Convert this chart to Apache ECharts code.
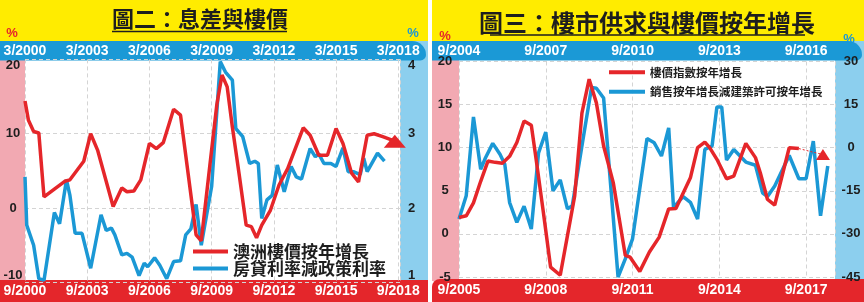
<!DOCTYPE html>
<html><head><meta charset="utf-8">
<script src="https://cdn.jsdelivr.net/npm/echarts@6/dist/echarts.min.js"></script>
<style>html,body{margin:0;padding:0;background:#fff}#c{width:864px;height:302px}</style>
</head><body><div id="c"></div>
<script>
// ---------- DATA ----------
// Left chart (圖二): x = months since 3/2000
const leftTopTicks = ['3/2000','3/2003','3/2006','3/2009','3/2012','3/2015','3/2018'];
const leftBottomTicks = ['9/2000','9/2003','9/2006','9/2009','9/2012','9/2015','9/2018'];
const ausPriceMonth = [0,2,5,8,11,23,26,34,38,42,51,56,59,63,67,72,76,80,86,90,99,102,107,111,114,117,120,124,128,131,134,137,142,147,152,161,165,170,175,180,184,189,193,198,202,207,214];
const ausPriceYoY = [14.4,11.8,10.3,10.1,1.5,3.6,3.8,6.3,10.0,7.8,0.2,2.7,2.2,2.3,3.8,8.7,8.0,8.8,13.3,12.5,-3.6,-4.4,5.8,13.9,17.9,16.3,10.9,4.4,-2.3,-2.5,-4.0,-2.3,-0.3,3.1,5.3,10.8,9.8,7.1,7.1,10.7,8.7,4.7,3.5,9.8,10.0,9.6,9.0];
const spreadMonth = [0,1,5,8,11,17,20,24,26,29,33,38,44,47,50,52,56,59,62,66,69,71,75,78,82,86,90,93,96,99,102,108,113,116,120,122,126,130,133,135,137,140,143,146,150,154,157,160,165,168,170,173,177,180,184,187,190,194,196,198,204,208];
const spreadValue = [2.42,1.77,1.50,1.05,1.03,1.94,1.79,2.38,2.17,1.66,1.66,1.19,1.91,1.70,1.73,1.64,1.37,1.39,1.34,1.09,1.26,1.21,1.33,1.23,1.05,1.28,1.29,1.64,1.72,2.05,1.50,2.29,3.97,3.83,3.72,3.07,2.96,2.60,2.63,2.60,1.86,2.11,2.17,2.58,2.22,2.56,2.42,2.39,2.80,2.69,2.73,2.60,2.60,2.56,2.81,2.49,2.49,2.45,2.67,2.49,2.74,2.63];

// Right chart (圖三): x = months since 9/2004
const rightTopTicks = ['9/2004','9/2007','9/2010','9/2013','9/2016'];
const rightBottomTicks = ['9/2005','9/2008','9/2011','9/2014','9/2017'];
const indexMonth = [0,3,6,9,12,15,18,21,24,27,30,32,35,38,42,45,48,51,54,57,60,64,69,71,75,79,83,87,90,96,99,102,104,107,111,114,119,123,125,128,131,137,141];
const indexYoY = [1.9,2.1,3.6,6.1,8.45,8.3,8.2,9.0,10.6,13.1,12.6,8.65,2.5,-3.85,-4.8,-0.2,4.4,14.0,17.95,15.2,10.2,5.95,-2.5,-2.7,-4.35,-2.1,-0.4,2.9,2.95,6.5,10.0,10.65,10.0,8.65,6.4,6.7,10.5,8.85,7.1,4.0,3.35,10.0,9.9];
const projMonth = [141,151];
const projYoY = [9.9,9.2];
const gapMonth = [0,3,6,9,11,14,17,19,21,24,27,30,33,36,39,42,45,47,51,55,57,60,66,69,72,78,81,84,87,89,93,96,99,102,105,107,109,111,114,119,123,126,128,131,137,141,144,147,150,153];
const gapValue = [-24.8,-16.7,10.7,-7.5,-3.5,1.5,-2.3,-5.8,-19.1,-26,-20.4,-28.3,-1.8,5.4,-15,-11.2,-21.3,-20.2,0.6,21,20.7,17.3,-45,-38.7,-31.7,3.2,1.7,-2.9,6.9,-20.8,-17,-19,-24.8,-0.6,0.6,14.2,14.2,-4.3,-0.6,-5,-6.1,-15.8,-17,-13.3,-2.7,-10.8,-10.8,2.3,-23.7,-6.4];

// ---------- STYLE ----------
const RED = '#e5262a', BLUE = '#1b98d5', BAND_BLUE = '#1b99d6', BAND_RED = '#e4262b';
const PINK = '#f2a9b2', LIGHT_BLUE = '#8ccfee', YELLOW = '#ffec00', INK = '#1e1e1e';
const NUM_FONT = '"Liberation Sans", Arial, sans-serif';
const CJK_FONT = '"Noto Sans CJK TC", "Noto Sans CJK SC", sans-serif';

const pairs = (xs, ys) => xs.map((x, i) => [x, ys[i]]);

function xAx(grid, pos, ticks, max, margin, split) {
  return {
    type: 'value', gridIndex: grid, position: pos, min: 0, max: max, interval: 36,
    axisLine: {show: false}, axisTick: {show: false},
    splitLine: {show: split, lineStyle: {color: '#d4d4d4', type: [4, 3], width: 1}},
    axisLabel: {
      margin: margin, color: '#fff', fontWeight: 'bold', fontSize: 14, fontFamily: NUM_FONT,
      showMinLabel: true, showMaxLabel: true,
      formatter: v => { const k = Math.round(v / 36); return (Math.abs(v - k * 36) < 0.01 && ticks[k]) ? ticks[k] : ''; }
    }
  };
}
function yAx(grid, pos, min, max, interval, margin, split, edgeAlign) {
  const lbl = {margin: margin, align: 'center', color: INK, fontWeight: 'bold', fontSize: 13, fontFamily: NUM_FONT};
  if (edgeAlign) { lbl.verticalAlignMaxLabel = 'top'; lbl.verticalAlignMinLabel = 'bottom'; }
  return {
    type: 'value', gridIndex: grid, position: pos, min: min, max: max, interval: interval,
    axisLine: {show: false}, axisTick: {show: false},
    splitLine: {show: split, lineStyle: {color: '#d4d4d4', type: [4, 3], width: 1}},
    axisLabel: lbl
  };
}

const graphics = [
  // left panel backgrounds
  {type:'rect', z:-10, shape:{x:0,y:0,width:428,height:42}, style:{fill:YELLOW}},
  {type:'rect', z:-10, shape:{x:400,y:41,width:28,height:240}, style:{fill:LIGHT_BLUE}},
  {type:'rect', z:-10, shape:{x:0,y:59,width:25,height:222}, style:{fill:PINK}},
  {type:'rect', z:-9, shape:{x:0,y:41,width:426,height:19.5,r:[0,20,8,0]}, style:{fill:BAND_BLUE}},
  {type:'rect', z:-9, shape:{x:0,y:280,width:428,height:22}, style:{fill:BAND_RED}},
  // right panel backgrounds
  {type:'rect', z:-10, shape:{x:432,y:0,width:432,height:42}, style:{fill:YELLOW}},
  {type:'rect', z:-10, shape:{x:835,y:41,width:29,height:240}, style:{fill:LIGHT_BLUE}},
  {type:'rect', z:-10, shape:{x:432,y:59,width:27,height:222}, style:{fill:PINK}},
  {type:'rect', z:-9, shape:{x:432,y:41,width:430,height:19.5,r:[0,20,8,0]}, style:{fill:BAND_BLUE}},
  {type:'rect', z:-9, shape:{x:432,y:279,width:432,height:23,r:[8,0,0,0]}, style:{fill:BAND_RED}},
  // title underlines
  {type:'line', z:5, shape:{x1:112,y1:31.5,x2:287,y2:31.5}, style:{stroke:INK,lineWidth:1.6}},
  {type:'line', z:5, shape:{x1:490,y1:35,x2:805,y2:35}, style:{stroke:INK,lineWidth:1.6}},
  // unit marks
  {type:'text', z:5, x:12, y:33, style:{text:'%', fill:RED, fontSize:13, fontWeight:'bold', fontFamily:NUM_FONT, align:'center', verticalAlign:'middle'}},
  {type:'text', z:5, x:413, y:33, style:{text:'%', fill:BLUE, fontSize:13, fontWeight:'bold', fontFamily:NUM_FONT, align:'center', verticalAlign:'middle'}},
  {type:'text', z:5, x:445, y:36, style:{text:'%', fill:RED, fontSize:13, fontWeight:'bold', fontFamily:NUM_FONT, align:'center', verticalAlign:'middle'}},
  {type:'text', z:5, x:849, y:39, style:{text:'%', fill:BLUE, fontSize:13, fontWeight:'bold', fontFamily:NUM_FONT, align:'center', verticalAlign:'middle'}}
];

const option = {
  animation: false,
  backgroundColor: '#fff',
  title: [
    {text:'圖二：息差與樓價', left:200, top:7.5, textAlign:'center', padding:0,
     textStyle:{fontSize:22, fontWeight:'bold', color:INK, fontFamily:CJK_FONT}},
    {text:'圖三：樓市供求與樓價按年增長', left:647, top:11, textAlign:'center', padding:0,
     textStyle:{fontSize:24, fontWeight:'bold', color:INK, fontFamily:CJK_FONT}}
  ],
  legend: [
    {data:['澳洲樓價按年增長','房貸利率減政策利率'], orient:'vertical', left:193, top:243, padding:0,
     icon:'rect', itemWidth:35, itemHeight:4, itemGap:0,
     textStyle:{fontSize:17, lineHeight:16, fontWeight:'bold', color:INK, fontFamily:CJK_FONT}},
    {data:['樓價指數按年增長','銷售按年增長減建築許可按年增長'], orient:'vertical', left:609, top:66.5, padding:0,
     icon:'rect', itemWidth:36, itemHeight:4, itemGap:8,
     textStyle:{fontSize:11.5, fontWeight:'bold', color:INK, fontFamily:CJK_FONT}}
  ],
  grid: [
    {left:25, top:59.4, width:375, height:223, containLabel:false},
    {left:459, top:61.5, width:376, height:215.5, containLabel:false}
  ],
  xAxis: [
    xAx(0, 'bottom', leftBottomTicks, 217, 1.5, true),
    xAx(0, 'top', leftTopTicks, 217, 1.5, false),
    xAx(1, 'bottom', rightBottomTicks, 156, 6, true),
    xAx(1, 'top', rightTopTicks, 156, 3, false)
  ],
  yAxis: [
    yAx(0, 'left', -10, 20, 10, 12, true, true),
    yAx(0, 'right', 1, 4, 1, 11.5, false, true),
    yAx(1, 'left', -5, 20, 5, 14, true, false),
    yAx(1, 'right', -45, 30, 15, 16, false, false)
  ],
  graphic: {elements: graphics},
  series: [
    {name:'房貸利率減政策利率', type:'line', xAxisIndex:0, yAxisIndex:1, data:pairs(spreadMonth, spreadValue),
     symbol:'none', lineStyle:{width:3.5, color:BLUE}, itemStyle:{color:BLUE}, z:2},
    {name:'澳洲樓價按年增長', type:'line', xAxisIndex:0, yAxisIndex:0, data:pairs(ausPriceMonth, ausPriceYoY),
     showSymbol:true,
     symbol:(v, p) => p.dataIndex === ausPriceMonth.length - 1 ? 'triangle' : 'none',
     symbolSize:[22,13], lineStyle:{width:3.5, color:RED}, itemStyle:{color:RED}, z:3},
    {name:'銷售按年增長減建築許可按年增長', type:'line', xAxisIndex:2, yAxisIndex:3, data:pairs(gapMonth, gapValue),
     symbol:'none', lineStyle:{width:3.5, color:BLUE}, itemStyle:{color:BLUE}, z:2},
    {name:'樓價指數按年增長', type:'line', xAxisIndex:2, yAxisIndex:2, data:pairs(indexMonth, indexYoY),
     symbol:'none', lineStyle:{width:3.5, color:RED}, itemStyle:{color:RED}, z:3},
    {name:'預測', type:'line', xAxisIndex:2, yAxisIndex:2, data:pairs(projMonth, projYoY),
     showSymbol:true,
     symbol:(v, p) => p.dataIndex === projMonth.length - 1 ? 'triangle' : 'none',
     symbolSize:[14,11], lineStyle:{width:1, color:RED, type:[2,2]}, itemStyle:{color:RED}, z:3}
  ]
};
const chart = echarts.init(document.getElementById('c'));
chart.setOption(option);
</script></body></html>
